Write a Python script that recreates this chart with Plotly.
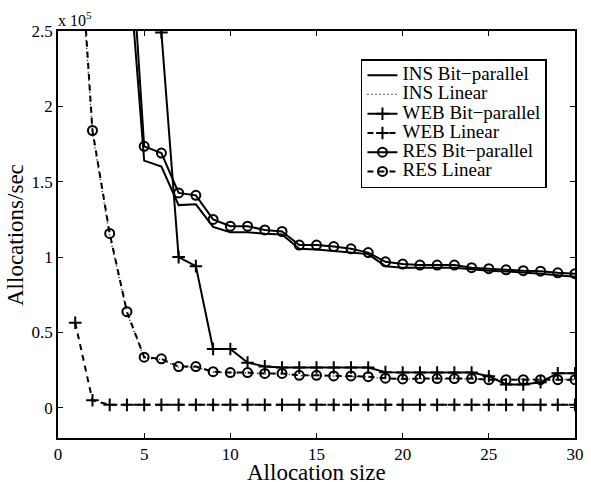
import plotly.graph_objects as go

SERIF = "Liberation Serif, Times New Roman, serif"

# Allocation sizes
x_all = list(range(1, 31))

# Values in allocations/sec (chart shows them in units of 1e5)
ins_bp_x = list(range(4, 31))
ins_bp = [310000, 164000, 160000, 134500, 135000, 120000, 116500, 116500, 115500, 115000,
          105500, 105000, 104000, 103000, 102000, 94000, 93000, 93000, 93000, 93000,
          92000, 91000, 90500, 90000, 89000, 88000, 87000]

ins_lin = [350000, 182000, 114000, 63000, 33000, 32000, 27000, 27000, 23800, 23200,
           23200, 22600, 22600, 21400, 21400, 21000, 21000, 20500, 19500, 19000,
           19300, 19300, 19300, 19300, 18800, 18800, 18800, 18800, 18800, 18800]

web_bp_x = list(range(5, 31))
web_bp = [450000, 249000, 100000, 94000, 39000, 39000, 30000, 27500, 26800, 26800,
          26800, 26800, 26800, 26800, 23700, 23500, 23400, 23400, 23400, 23400,
          21000, 15500, 15500, 17000, 23000, 23000]

web_lin = [56500, 5000] + [2000] * 28

res_bp_x = list(range(4, 31))
res_bp = [350000, 173500, 169000, 142600, 141000, 125000, 120500, 120500, 118000, 117000,
          108000, 108000, 107000, 105500, 103000, 96900, 95400, 94700, 94700, 94700,
          93000, 92300, 91600, 91000, 90700, 89600, 89000]

res_lin = [360000, 184000, 115700, 63800, 33600, 32500, 27400, 27400, 24000, 23400,
           23400, 22800, 22800, 21600, 21600, 21200, 21200, 20700, 19700, 19200,
           19400, 19400, 19400, 19400, 18700, 18700, 18700, 18700, 18700, 18700]

names = ["INS Bit\u2212parallel", "INS Linear", "WEB Bit\u2212parallel",
         "WEB Linear", "RES Bit\u2212parallel", "RES Linear"]

y_tickvals = [0, 50000, 100000, 150000, 200000, 250000]
y_ticktext = ["0", "0.5", "1", "1.5", "2", "2.5"]
x_tickvals = [0, 5, 10, 15, 20, 25, 30]

def lname(s):
    return '<span style="font-size:19px">' + s + '</span>'

plus = dict(symbol="cross-thin-open", size=9, line=dict(color="black", width=2))
circ = dict(symbol="circle-open", size=9, color="black", line=dict(color="black", width=2))

fig = go.Figure()
fig.add_trace(go.Scatter(x=ins_bp_x, y=ins_bp, mode="lines", name=lname(names[0]),
                         line=dict(color="black", width=2)))
fig.add_trace(go.Scatter(x=x_all, y=ins_lin, mode="lines", name=lname(names[1]),
                         line=dict(color="black", width=1.3, dash="1px,3px")))
fig.add_trace(go.Scatter(x=web_bp_x, y=web_bp, mode="lines+markers", name=lname(names[2]),
                         line=dict(color="black", width=2), marker=plus))
fig.add_trace(go.Scatter(x=x_all, y=web_lin, mode="lines+markers", name=lname(names[3]),
                         line=dict(color="black", width=2, dash="6px,5px"), marker=plus))
fig.add_trace(go.Scatter(x=res_bp_x, y=res_bp, mode="lines+markers", name=lname(names[4]),
                         line=dict(color="black", width=2), marker=circ))
fig.add_trace(go.Scatter(x=x_all, y=res_lin, mode="lines+markers", name=lname(names[5]),
                         line=dict(color="black", width=2, dash="6px,5px"), marker=circ))

axis_common = dict(showgrid=False, zeroline=False, showline=True, linecolor="black",
                   linewidth=1.5, mirror="ticks", ticks="inside", ticklen=5,
                   tickwidth=1, tickcolor="black", automargin=False,
                   tickfont=dict(family=SERIF, size=17, color="black"))

fig.update_xaxes(range=[0, 30], tickvals=x_tickvals, **axis_common)
fig.update_yaxes(range=[-20000, 250000], tickvals=y_tickvals, ticktext=y_ticktext,
                 **axis_common)

title_font = dict(family=SERIF, size=23, color="black")
fig.add_annotation(text="Allocation size", xref="paper", yref="paper", x=0.5, y=0,
                   xanchor="center", yanchor="top", yshift=-20, showarrow=False,
                   font=title_font)
fig.add_annotation(text="Allocations/sec", xref="paper", yref="paper", x=0, y=0.5,
                   xanchor="right", yanchor="middle", xshift=-28, textangle=-90,
                   showarrow=False, font=title_font)
fig.add_annotation(text="x 10<sup>5</sup>", xref="paper", yref="paper", x=0, y=1,
                   xanchor="left", yanchor="bottom", showarrow=False,
                   font=dict(family=SERIF, size=16, color="black"), xshift=-2, yshift=0)

fig.update_layout(
    width=591, height=482,
    margin=dict(l=58, r=16, t=31, b=44),
    paper_bgcolor="white", plot_bgcolor="white",
    showlegend=True,
    legend=dict(x=0.586, y=0.931, xanchor="left", yanchor="top",
                bgcolor="white", bordercolor="black", borderwidth=1.5,
                font=dict(family=SERIF, size=12.5, color="black"),
                tracegroupgap=0),
)

fig.write_html("out.html")
